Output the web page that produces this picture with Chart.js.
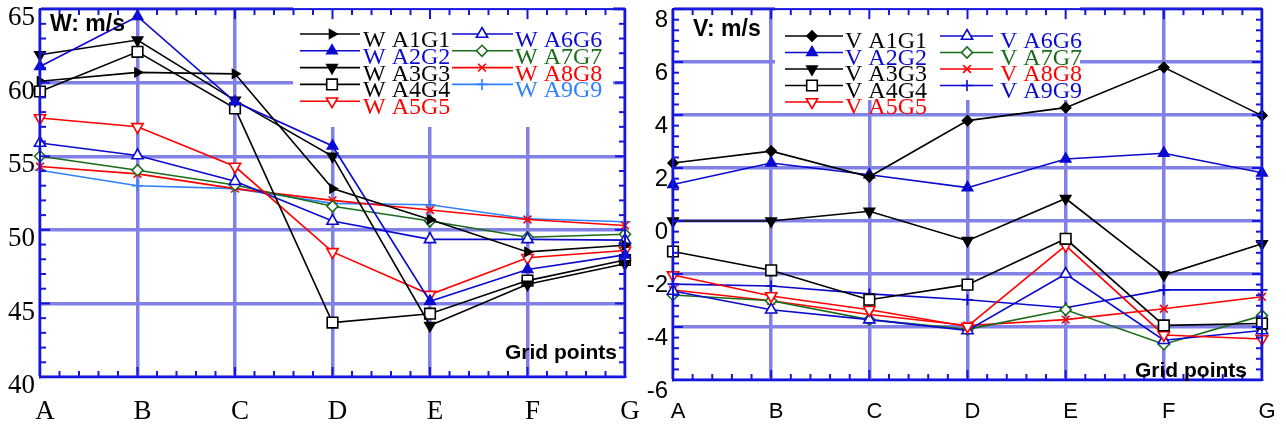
<!DOCTYPE html>
<html>
<head>
<meta charset="utf-8">
<script src="https://cdn.jsdelivr.net/npm/chart.js@4/dist/chart.umd.min.js"></script>
<style>
  body { margin: 0; background: #fff; }
  .panel { position: absolute; top: 0; height: 432px; }
</style>
</head>
<body>
<div class="panel" style="left:0;width:640px"><canvas id="chartW" width="640" height="432"></canvas></div>
<div class="panel" style="left:640px;width:646px"><canvas id="chartV" width="646" height="432"></canvas></div>
<script>
// grid points along x
const categories = ['A', 'B', 'C', 'D', 'E', 'F', 'G'];
const seriesNames = ['A1G1', 'A2G2', 'A3G3', 'A4G4', 'A5G5', 'A6G6', 'A7G7', 'A8G8', 'A9G9'];

// W component (m/s)
const W_A1G1 = [60.1, 60.7, 60.6, 52.8, 50.7, 48.5, 48.95];
const W_A2G2 = [61.1, 64.5, 58.7, 55.7, 45.15, 47.3, 48.3];
const W_A3G3 = [61.9, 62.9, 58.8, 55.0, 43.5, 46.3, 47.7];
const W_A4G4 = [59.4, 62.1, 58.25, 43.7, 44.3, 46.55, 47.95];
const W_A5G5 = [57.6, 57.0, 54.3, 48.5, 45.6, 48.1, 48.6];
const W_A6G6 = [55.9, 55.05, 53.3, 50.6, 49.35, 49.35, 49.3];
const W_A7G7 = [55.0, 54.05, 53.05, 51.6, 50.6, 49.5, 49.7];
const W_A8G8 = [54.3, 53.8, 52.8, 52.0, 51.35, 50.7, 50.3];
const W_A9G9 = [54.05, 53.0, 52.8, 51.8, 51.7, 50.75, 50.55];

// V component (m/s)
const V_A1G1 = [2.19, 2.64, 1.67, 3.79, 4.28, 5.8, 3.98];
const V_A2G2 = [1.38, 2.19, 1.75, 1.26, 2.34, 2.56, 1.82];
const V_A3G3 = [0.0, 0.0, 0.37, -0.74, 0.85, -2.04, -0.86];
const V_A4G4 = [-1.15, -1.86, -2.97, -2.4, -0.67, -3.94, -3.87];
const V_A5G5 = [-2.04, -2.83, -3.35, -3.98, -0.93, -4.3, -4.45];
const V_A6G6 = [-2.64, -3.35, -3.72, -4.13, -2.0, -4.5, -4.13];
const V_A7G7 = [-2.79, -3.01, -3.72, -4.09, -3.35, -4.65, -3.57];
const V_A8G8 = [-2.6, -3.01, -3.53, -3.94, -3.72, -3.31, -2.86];
const V_A9G9 = [-2.38, -2.45, -2.75, -2.97, -3.27, -2.6, -2.6];

const wTicks = [40, 45, 50, 55, 60, 65];
const vTicks = [-6, -4, -2, 0, 2, 4, 6, 8];

const wData = [W_A1G1, W_A2G2, W_A3G3, W_A4G4, W_A5G5, W_A6G6, W_A7G7, W_A8G8, W_A9G9];
const vData = [V_A1G1, V_A2G2, V_A3G3, V_A4G4, V_A5G5, V_A6G6, V_A7G7, V_A8G8, V_A9G9];

// looks
const BLK = '#000000', BLU = '#0a0ad0', RED = '#ff0000', GRN = '#1a6b1a', LBL = '#3080ff';
const gridColor = '#8080e6';
const axisBlue = '#1515e0';

const wColors = [BLK, BLU, BLK, BLK, RED, BLU, GRN, RED, LBL];
const vColors = [BLK, BLU, BLK, BLK, RED, BLU, GRN, RED, BLU];
const wMarks = ['triangle', 'triangle', 'triangle', 'rect', 'triangle', 'triangle', 'rectRot', 'crossRot', 'cross'];
const vMarks = ['rectRot', 'triangle', 'triangle', 'rect', 'triangle', 'triangle', 'rectRot', 'crossRot', 'cross'];
const markRot = [90, 0, 180, 0, 180, 0, 0, 0, 0];
const vMarkRot = [0, 0, 180, 0, 180, 0, 0, 0, 0];
const markFilled = [true, true, true, false, false, false, false, false, false];
const markSize = [5, 6, 6, 7.5, 6.5, 6.5, 5.5, 5.5, 5.5];

function buildSets(data, colors, marks, rots) {
    return data.map((vals, i) => ({
        label: seriesNames[i],
        data: vals,
        borderColor: colors[i],
        backgroundColor: markFilled[i] ? colors[i] : '#ffffff',
        borderWidth: 1.6,
        pointStyle: marks[i],
        pointRotation: rots[i],
        pointRadius: markSize[i],
        pointBorderWidth: 1.6,
        pointBackgroundColor: markFilled[i] ? colors[i] : '#ffffff',
        pointBorderColor: colors[i],
        tension: 0
    }));
}

function line(ctx, x0, y0, x1, y1) {
    ctx.beginPath();
    ctx.moveTo(x0, y0);
    ctx.lineTo(x1, y1);
    ctx.stroke();
}

// frame, inward minor ticks, legend box, titles
const frameDeco = {
    id: 'frameDeco',
    beforeDatasetsDraw(chart, args, o) {
        const ctx = chart.ctx;
        ctx.save();
        ctx.fillStyle = '#ffffff';
        ctx.fillRect(o.box[0], o.box[1], o.box[2], o.box[3]);
        ctx.restore();
    },
    afterDatasetsDraw(chart, args, o) {
        const ctx = chart.ctx;
        const a = chart.chartArea;
        const x = chart.scales.x, y = chart.scales.y;
        ctx.save();
        ctx.strokeStyle = axisBlue;
        ctx.lineWidth = 2;
        ctx.strokeRect(a.left, a.top, a.right - a.left, a.bottom - a.top);
        let n = Math.round((y.max - y.min) / o.yMinor);
        for (let k = 0; k <= n; k++) {
            const v = y.min + k * o.yMinor;
            const py = y.getPixelForValue(v);
            const len = (k % 5 == 0) ? 10 : 6;
            line(ctx, a.left, py, a.left + len, py);
            line(ctx, a.right, py, a.right - len, py);
        }
        for (let i = 0; i < categories.length; i++) {
            const px = x.getPixelForValue(i);
            line(ctx, px, a.top, px, a.top + 10);
            line(ctx, px, a.bottom, px, a.bottom - 10);
            if (i < categories.length - 1) {
                const nx = x.getPixelForValue(i + 1);
                for (let k = 1; k < 5; k++) {
                    const mx = px + (nx - px) * k / 5;
                    line(ctx, mx, a.top, mx, a.top + 6);
                    line(ctx, mx, a.bottom, mx, a.bottom - 6);
                }
            }
        }

        // titles
        ctx.fillStyle = '#000';
        ctx.font = 'bold 23px "Liberation Sans", Arial, sans-serif';
        ctx.textBaseline = 'middle';
        ctx.textAlign = 'left';
        ctx.fillText(o.title, o.titleXY[0], o.titleXY[1]);
        ctx.font = 'bold 21px "Liberation Sans", Arial, sans-serif';
        ctx.textAlign = 'right';
        ctx.fillText('Grid points', o.gridXY[0], o.gridXY[1]);

        // legend
        ctx.font = '24px "Liberation Serif", "Times New Roman", serif';
        ctx.textAlign = 'left';
        ctx.textBaseline = 'alphabetic';
        const ds = chart.data.datasets;
        ds.forEach((d, i) => {
            const col = i < 5 ? o.cols[0] : o.cols[1];
            const row = i < 5 ? i : i - 5;
            const ly = o.rowY0 + row * o.rowDy;
            ctx.strokeStyle = d.borderColor;
            ctx.lineWidth = 1.6;
            line(ctx, col[0], ly, col[1], ly);
            ctx.fillStyle = d.pointBackgroundColor;
            Chart.helpers.drawPoint(ctx, {
                pointStyle: d.pointStyle,
                rotation: d.pointRotation,
                radius: d.pointRadius,
                borderWidth: 1.6
            }, col[2], ly);
            ctx.fillStyle = d.borderColor;
            ctx.fillText(o.prefix + ' ' + d.label, col[3], ly + o.textDy);
        });
        ctx.restore();
    }
};

function makeChart(id, sets, yMin, yMax, yStep, yLabelOffset, tickFont, xFont, yWidth, xHeight, padTop, padRight, deco) {
    const ctx = document.getElementById(id).getContext('2d');
    return new Chart(ctx, {
        type: 'line',
        data: { labels: categories, datasets: sets },
        plugins: [frameDeco],
        options: {
            responsive: false,
            animation: false,
            devicePixelRatio: 1,
            layout: { padding: { top: padTop, right: padRight, left: 0, bottom: 0 } },
            plugins: {
                legend: { display: false },
                tooltip: { enabled: false },
                frameDeco: deco
            },
            scales: {
                x: {
                    type: 'category',
                    offset: false,
                    grid: { color: gridColor, lineWidth: 3.5, drawTicks: false },
                    border: { color: axisBlue, width: 2 },
                    ticks: { color: '#000', font: xFont, padding: 19, labelOffset: 5, maxRotation: 0, autoSkip: false },
                    afterFit: (s) => { s.height = xHeight; s.paddingLeft = 0; s.paddingRight = 0; }
                },
                y: {
                    min: yMin,
                    max: yMax,
                    grid: { color: gridColor, lineWidth: 3.5, drawTicks: false },
                    border: { color: axisBlue, width: 2 },
                    ticks: { color: '#000', font: tickFont, stepSize: yStep, padding: 5, labelOffset: yLabelOffset },
                    afterFit: (s) => { s.width = yWidth; s.paddingTop = 0; s.paddingBottom = 0; }
                }
            }
        }
    });
}

const serif27 = { family: '"Liberation Serif", "Times New Roman", serif', size: 27 };
const sans24 = { family: '"Liberation Sans", Arial, sans-serif', size: 24 };
const sans22 = { family: '"Liberation Sans", Arial, sans-serif', size: 22 };

makeChart('chartW', buildSets(wData, wColors, wMarks, markRot), wTicks[0], wTicks[wTicks.length - 1], 5, 9,
    serif27, serif27, 40, 55, 3, 15, {
        title: 'W: m/s', titleXY: [50, 25], gridXY: [617, 353],
        prefix: 'W', box: [293, 5, 320, 122],
        cols: [[300, 360, 332, 363], [452, 513, 482, 515]],
        rowY0: 34, rowDy: 16.8, textDy: 13,
        yMinor: 1
    });

makeChart('chartV', buildSets(vData, vColors, vMarks, vMarkRot), vTicks[0], vTicks[vTicks.length - 1], 2, 11,
    sans24, sans22, 33, 52, 5, 24, {
        title: 'V: m/s', titleXY: [53, 30], gridXY: [607, 371],
        prefix: 'V', box: [135, 6, 305, 94],
        cols: [[145, 203, 172, 205], [300, 353, 327, 360]],
        rowY0: 36, rowDy: 16.5, textDy: 12,
        yMinor: 0.4
    });
</script>
</body>
</html>
